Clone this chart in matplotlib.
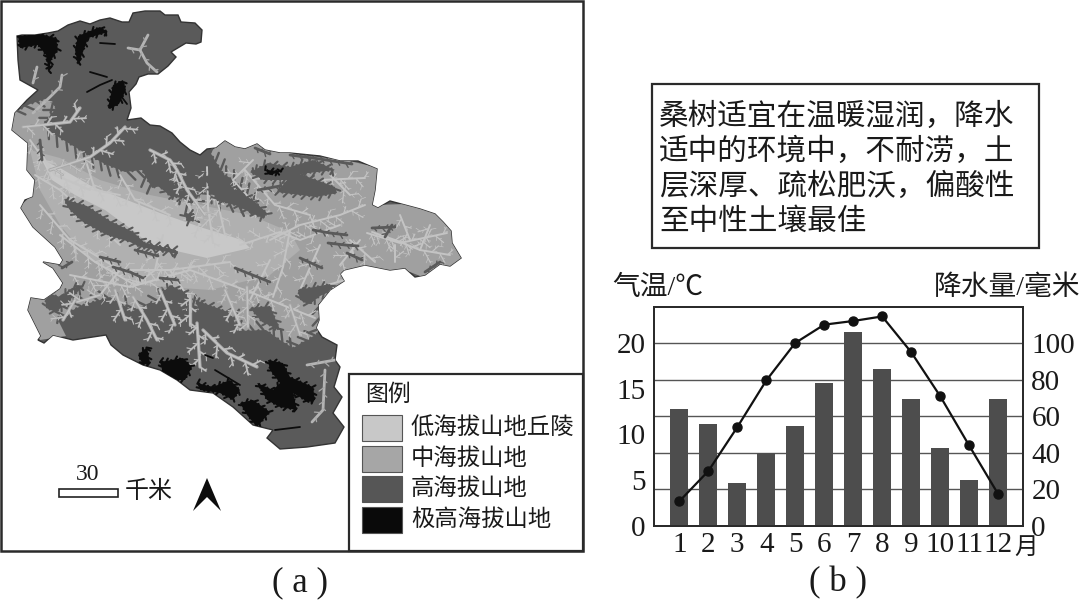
import matplotlib
matplotlib.use('Agg')
import numpy as np
import matplotlib.pyplot as plt
from matplotlib.collections import LineCollection
from matplotlib.patches import Polygon, Rectangle

plt.rcParams['font.family'] = ['Liberation Serif', 'Noto Sans CJK SC']

# chart values
months = list(range(1, 13))
month_labels = ['1', '2', '3', '4', '5', '6', '7', '8', '9', '10', '11', '12']
temperature = [2.7, 6.0, 10.8, 15.9, 20.0, 22.0, 22.4, 22.9, 19.0, 14.2, 8.8, 3.5]
rainfall = [64, 55.5, 23.7, 39.9, 54.6, 78, 106, 85.6, 69.4, 42.8, 25.3, 69.4]
temp_ticks = [0, 5, 10, 15, 20]
rain_ticks = [0, 20, 40, 60, 80, 100]

note_lines = ['桑树适宜在温暖湿润，降水', '适中的环境中，不耐涝，土', '层深厚、疏松肥沃，偏酸性', '至中性土壤最佳']
legend_labels = ['低海拔山地丘陵', '中海拔山地', '高海拔山地', '极高海拔山地']
legend_colors = ['#c8c8c8', '#a6a6a6', '#565656', '#0a0a0a']

# map shapes in pixels
outline = [(17, 36), (22, 35), (35, 35), (48, 33), (58, 31), (68, 25), (80, 21), (90, 24), (100, 20), (110, 18),
           (122, 22), (129, 22), (133, 13), (145, 11), (160, 11), (165, 15), (178, 15), (181, 22), (195, 23), (202, 30),
           (201, 42), (196, 44), (186, 43), (171, 52), (176, 57), (168, 66), (158, 74), (148, 74), (139, 77), (136, 84),
           (129, 92), (131, 108), (127, 120), (141, 118), (150, 125), (160, 126), (172, 133), (180, 142), (190, 150),
           (200, 155), (207, 149), (216, 148), (225, 141), (235, 147), (245, 149), (257, 144), (265, 150), (280, 153),
           (290, 153), (320, 156), (340, 161), (358, 161), (377, 169), (375, 190), (372, 205), (378, 208), (390, 201),
           (405, 205), (420, 209), (435, 214), (443, 222), (451, 231), (452, 243), (461, 258), (450, 266), (440, 264),
           (425, 275), (415, 277), (405, 268), (390, 270), (365, 265), (344, 270), (340, 274), (344, 281), (330, 290),
           (318, 305), (319, 320), (316, 328), (322, 337), (337, 345), (335, 360), (340, 367), (334, 387), (342, 397),
           (333, 413), (344, 427), (335, 443), (307, 447), (280, 449), (267, 438), (273, 430), (253, 425), (233, 407),
           (213, 393), (190, 390), (177, 380), (160, 370), (143, 365), (123, 355), (111, 345), (106, 335), (73, 340),
           (53, 335), (44, 343), (38, 340), (41, 336), (33, 320), (28, 310), (31, 298), (44, 300), (60, 289), (63, 283),
           (53, 268), (43, 262), (60, 265), (63, 260), (55, 247), (33, 227), (21, 208), (25, 200), (33, 197), (35, 180),
           (27, 170), (28, 143), (12, 130), (15, 113), (27, 100), (38, 90), (20, 80), (18, 60)]
mid_zone = [(10, 132), (15, 112), (30, 104), (48, 98), (56, 108), (42, 126), (60, 138), (85, 153), (105, 164), (125, 172),
            (142, 170), (152, 188), (170, 182), (190, 206), (205, 190), (222, 202), (240, 206), (258, 208), (240, 186),
            (222, 172), (210, 152), (225, 140), (245, 148), (258, 143), (267, 150), (285, 152), (300, 155), (345, 160),
            (380, 168), (375, 205), (405, 204), (435, 213), (455, 232), (465, 258), (450, 268), (425, 278), (405, 270),
            (345, 272), (345, 282), (318, 305), (321, 322), (317, 334), (293, 348), (280, 340), (266, 330), (238, 331),
            (232, 316), (204, 318), (190, 300), (163, 297), (147, 304), (133, 311), (110, 297), (83, 305), (57, 318),
            (66, 336), (40, 340), (25, 310), (30, 296), (44, 298), (62, 285), (40, 262), (60, 262), (30, 225), (18, 208),
            (32, 195), (33, 178), (24, 170), (26, 143)]
pale_zone = [(30, 150), (60, 158), (100, 180), (150, 195), (200, 205), (250, 215), (290, 232), (300, 250), (270, 275),
             (210, 290), (140, 285), (90, 260), (60, 225), (40, 190)]
light_zone = [(42, 160), (60, 168), (93, 187), (127, 200), (160, 213), (200, 227), (242, 240), (250, 248), (207, 258),
              (150, 245), (135, 232), (105, 210), (75, 195), (52, 180)]
dark_zones = [
    [(64, 199), (87, 206), (110, 221), (133, 232), (145, 243), (176, 250), (178, 254), (140, 247), (130, 242), (107, 235), (83, 222), (69, 209)],
    [(250, 172), (268, 163), (290, 167), (313, 160), (335, 170), (300, 174), (335, 187), (337, 193), (316, 197), (277, 192), (287, 180), (263, 180)],
    [(203, 177), (217, 173), (230, 187), (253, 200), (268, 214), (260, 217), (233, 204), (217, 200), (210, 187)],
    [(152, 180), (165, 176), (180, 190), (195, 198), (192, 200), (170, 196)],
    [(184, 214), (194, 213), (195, 220), (188, 222)],
    [(298, 290), (330, 284), (334, 290), (320, 296), (310, 304), (300, 300)],
    [(45, 292), (60, 297), (72, 288), (84, 285), (70, 300), (56, 312), (46, 308)],
    [(170, 285), (185, 293), (192, 305), (175, 302), (160, 296)],
    [(195, 300), (228, 312), (232, 320), (205, 322)],
    [(250, 308), (270, 306), (280, 330), (262, 322)],
]
dark_lines = [[(113, 267), (130, 272), (143, 278)], [(313, 230), (330, 233), (347, 235)], [(328, 243), (345, 245), (358, 246)],
              [(347, 253), (362, 260)], [(100, 257), (120, 262)], [(160, 278), (178, 280)], [(72, 262), (62, 268)],
              [(40, 140), (42, 160)], [(392, 225), (385, 237)], [(135, 250), (158, 256)], [(258, 190), (280, 186)],
              [(372, 228), (395, 227)], [(235, 268), (270, 282)], [(300, 258), (322, 268)],
              [(290, 155), (320, 159), (352, 164)], [(255, 148), (270, 154)], [(425, 272), (440, 262)]]
black_zones = [
    [(18, 36), (40, 34), (56, 38), (58, 50), (51, 60), (49, 72), (46, 55), (38, 45), (20, 48)],
    [(78, 36), (100, 27), (108, 32), (88, 38), (83, 52), (78, 65), (75, 50)],
    [(108, 108), (113, 85), (123, 80), (126, 90), (119, 104), (110, 109)],
    [(265, 170), (283, 171), (270, 175)],
    [(268, 360), (283, 363), (290, 377), (313, 387), (315, 400), (308, 402), (293, 393), (297, 410), (280, 407), (267, 400), (257, 383), (273, 390), (280, 383), (270, 370)],
    [(160, 362), (183, 358), (192, 367), (185, 380), (177, 380), (163, 373)],
    [(197, 383), (213, 387), (230, 380), (240, 390), (233, 400), (220, 393), (200, 390)],
    [(240, 403), (253, 400), (270, 412), (257, 427), (247, 415)],
    [(138, 355), (147, 347), (150, 363), (143, 365)],
]
black_lines = [[(100, 43), (115, 44)], [(87, 92), (100, 85), (112, 80)], [(90, 72), (107, 77)], [(118, 92), (127, 104)],
               [(215, 370), (240, 385)], [(205, 355), (213, 358)], [(275, 430), (300, 427)]]
# trunks with few side valleys
sparse_valleys = [[(128, 48), (140, 50), (147, 63), (157, 72)], [(140, 50), (148, 35)], [(33, 83), (37, 67)],
                  [(33, 113), (50, 97), (60, 87), (62, 75)], [(325, 370), (323, 410), (312, 422)], [(307, 365), (335, 360)]]
# main valleys, branches are added along them when drawn
upper_valleys = [[(23, 127), (43, 125), (70, 122), (80, 108)],
                 [(50, 170), (90, 157), (110, 143), (125, 127)], [(150, 150), (170, 160), (177, 170), (187, 190), (205, 215)],
                 [(197, 323), (200, 367)], [(203, 330), (227, 353), (257, 367)],
                 [(133, 297), (147, 320), (157, 340)], [(190, 295), (190, 325)], [(247, 287), (248, 327)],
                 [(75, 300), (63, 320)], [(100, 295), (77, 302)], [(290, 305), (300, 335)], [(225, 290), (240, 325)],
                 [(115, 290), (125, 320)], [(160, 290), (175, 325)]]
lower_valleys = [[(207, 167), (208, 207), (213, 243)], [(253, 160), (233, 180), (265, 215)], [(290, 230), (283, 267), (273, 297)],
                 [(367, 233), (400, 243), (447, 233)], [(320, 180), (365, 178)], [(70, 275), (130, 287), (190, 270), (245, 290), (315, 318)],
                 [(340, 225), (300, 240), (280, 232), (240, 245)], [(60, 235), (95, 262), (135, 285)], [(35, 175), (60, 190), (120, 245)],
                 [(395, 262), (395, 245)], [(350, 240), (375, 262)], [(163, 235), (155, 270), (133, 287)], [(40, 150), (50, 170)],
                 [(372, 232), (395, 240), (420, 250), (450, 255)], [(400, 215), (410, 240)], [(430, 225), (420, 250)],
                 [(270, 240), (300, 225), (340, 215), (365, 205)], [(245, 170), (275, 205), (310, 215)], [(330, 175), (350, 195)],
                 [(215, 190), (225, 235)], [(70, 240), (120, 270), (170, 270), (230, 262)], [(120, 270), (100, 295)],
                 [(170, 270), (190, 300)], [(40, 205), (70, 240)], [(270, 260), (250, 300)], [(320, 245), (300, 290)],
                 [(310, 290), (345, 280)], [(30, 140), (55, 175), (90, 190)], [(85, 158), (95, 190), (120, 195)],
                 [(120, 175), (135, 200), (170, 215)], [(175, 175), (185, 200), (200, 225)], [(360, 240), (340, 265)]]


def branches(path, step=9.0, size=9.0):
    # side valleys along a path, alternating left and right
    segs = []
    count = 0
    for (x0, y0), (x1, y1) in zip(path[:-1], path[1:]):
        seg_len = np.hypot(x1 - x0, y1 - y0)
        ang = np.arctan2(y1 - y0, x1 - x0)
        for d in np.arange(step / 2, seg_len, step):
            side = 1 if count % 2 == 0 else -1
            a = ang + side * np.deg2rad(52)
            s = size * (1, 0.65, 1.25, 0.8)[count % 4]
            bx = x0 + d * np.cos(ang)
            by = y0 + d * np.sin(ang)
            segs.append([(bx, by), (bx + s * np.cos(a), by + s * np.sin(a))])
            count += 1
    return segs


def add_lines(ax, segs, color, width, clip, z):
    lc = LineCollection(segs, colors=color, linewidths=width, capstyle='round', zorder=z)
    ax.add_collection(lc)
    lc.set_clip_path(clip)


def draw_valleys(ax, paths, color, width, clip, z=5):
    level1 = [s for p in paths for s in branches(p, 8, 11)]
    level2 = [s for p in level1 for s in branches(p, 3.5, 4)]
    add_lines(ax, paths, color, width, clip, z)
    add_lines(ax, level1, color, width * 0.6, clip, z)
    add_lines(ax, level2, color, width * 0.35, clip, z)


def fill_zone(ax, shape, color, clip, z, tooth=0.0):
    p = Polygon(shape, closed=True, fc=color, ec='none', zorder=z)
    ax.add_patch(p)
    p.set_clip_path(clip)
    if tooth:
        add_lines(ax, branches(list(shape) + [shape[0]], 4.5, tooth), color, 1.5, clip, z)


fig = plt.figure(figsize=(10.8, 6.02), dpi=100)
page = fig.add_axes([0, 0, 1, 1])
page.set_xlim(0, 1080)
page.set_ylim(602, 0)
page.axis('off')

# (a) map
page.add_patch(Rectangle((1, 1), 582, 550, fc='white', ec='#2a2a2a', lw=1.8))
land = Polygon(outline, closed=True, fc='#5a5a5a', ec='#333333', lw=1, zorder=2)
page.add_patch(land)
fill_zone(page, mid_zone, '#a0a0a0', land, 3)
fill_zone(page, pale_zone, '#b0b0b0', land, 3)
fill_zone(page, light_zone, '#c8c8c8', land, 3)
# notch the border between the high and the middle land, only where it is inland
for border in (mid_zone[1:21], mid_zone[39:55]):
    add_lines(page, branches(border, 5, 9), '#5a5a5a', 1.7, land, 3.5)
draw_valleys(page, lower_valleys, '#c4c4c4', 1.4, land, 3.6)
for shape in dark_zones:
    fill_zone(page, shape, '#5a5a5a', land, 4, tooth=6)
add_lines(page, dark_lines, '#5a5a5a', 2.0, land, 4)
add_lines(page, [s for p in dark_lines for s in branches(p, 4, 4)], '#5a5a5a', 1.0, land, 4)
draw_valleys(page, upper_valleys, '#a8a8a8', 2.4, land, 4.5)
draw_valleys(page, upper_valleys, '#c4c4c4', 1.1, land, 5)
add_lines(page, sparse_valleys, '#b4b4b4', 2.0, land, 5)
add_lines(page, [s for p in sparse_valleys for s in branches(p, 7, 5)], '#a8a8a8', 0.9, land, 5)
for shape in black_zones:
    fill_zone(page, shape, '#0c0c0c', land, 6, tooth=4)
add_lines(page, black_lines, '#0c0c0c', 1.3, land, 6)

# legend box
page.add_patch(Rectangle((349, 374), 234, 177, fc='white', ec='#2a2a2a', lw=1.6, zorder=7))
page.text(365, 395, '图例', fontsize=16.5, va='center', color='#1a1a1a', zorder=8)
for i, (label, color) in enumerate(zip(legend_labels, legend_colors)):
    y = 428 + i * 30.7
    page.add_patch(Rectangle((362, y - 13), 40, 26, fc=color, ec='#555555', lw=0.8, zorder=8))
    page.text(411, y, label, fontsize=16.8, va='center', color='#1a1a1a', zorder=8)

# scale bar and north arrow
page.add_patch(Rectangle((59, 489), 59, 8, fc='white', ec='#222222', lw=1.2))
page.text(88, 475, '30', fontsize=17, ha='center', va='center', color='#1a1a1a')
page.text(125, 492, '千米', fontsize=17.3, va='center', color='#1a1a1a')
page.add_patch(Polygon([(207, 478), (221, 511), (207, 497), (193, 511)], closed=True, fc='#0c0c0c', ec='none'))

page.text(300, 583, '( a )', fontsize=25, ha='center', va='center', color='#1a1a1a')
page.text(838, 583, '( b )', fontsize=25, ha='center', va='center', color='#1a1a1a')

# text box
page.add_patch(Rectangle((652, 84), 387, 164, fc='white', ec='#2a2a2a', lw=1.6))
for i, line in enumerate(note_lines):
    page.text(659, 117 + i * 35, line, fontsize=21.3, va='center', color='#1a1a1a')

page.text(612, 288, '气温/℃', fontsize=20, va='center', color='#1a1a1a')
page.text(1080, 288, '降水量/毫米', fontsize=20, ha='right', va='center', color='#1a1a1a')
page.text(1026, 548, '月', fontsize=17, ha='center', va='center', color='#1a1a1a')

# (b) climate chart
left, right, top, bottom = 654, 1023, 307, 526
ax = fig.add_axes([left / 1080, 1 - bottom / 602, (right - left) / 1080, (bottom - top) / 602])
ax.bar(months, rainfall, width=0.63, color='#4d4d4d', zorder=3)
ax.set_xlim(0.126, 12.86)
ax.set_ylim(0, 119.67)
ax.set_xticks(months)
ax.set_xticklabels(month_labels)
ax.set_yticks(rain_ticks)
ax.grid(True, axis='y', color='#555555', lw=1, zorder=1)
ax.tick_params(axis='both', length=0, labelsize=21, labelcolor='#1a1a1a')
ax.tick_params(axis='x', pad=4)

ax2 = ax.twinx()
ax.yaxis.tick_right()
ax.tick_params(axis='y', length=0, pad=6)
ax2.plot(months, temperature, color='#111111', lw=1.6, marker='o', ms=6.5, zorder=4)
ax2.set_ylim(0, 23.93)
ax2.yaxis.tick_left()
ax2.set_yticks(temp_ticks)
ax2.tick_params(axis='y', length=0, labelsize=21, labelcolor='#1a1a1a', pad=6)
for a in (ax, ax2):
    for s in a.spines.values():
        s.set_color('#2a2a2a')
        s.set_linewidth(1.3)

fig.savefig('out.png', dpi=100)
